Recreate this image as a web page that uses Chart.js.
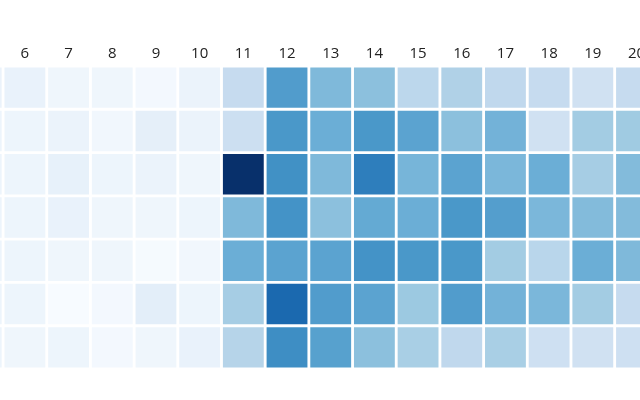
<!DOCTYPE html>
<html>
<head>
<meta charset="utf-8">
<script src="https://cdn.jsdelivr.net/npm/chart.js@4/dist/chart.umd.min.js"></script>
<style>
 html,body{margin:0;padding:0;background:#fff}
 #wrap{width:640px;height:400px;position:relative}
</style>
</head>
<body>
<div id="wrap"><canvas id="heat"></canvas></div>
<script>
// hours shown on the top axis
const hours=[5,6,7,8,9,10,11,12,13,14,15,16,17,18,19,20]

// one array per row, top to bottom (0..100)
const row1=[6,7,4,4,2,6,25,58,45,42,28,32,27,25,20,25]
const row2=[5,5,6,3,9,6,22,60,50,60,55,42,48,20,36,37]
const row3=[5,5,8,5,6,4,100,63,45,70,47,55,46,50,35,44]
const row4=[5,5,7,4,4,5,45,62,42,52,50,60,57,46,44,44]
const row5=[5,5,4,4,1,3,50,55,55,62,60,60,36,29,50,45]
const row6=[5,5,0,2,10,5,35,78,58,55,38,58,48,46,36,25]
const row7=[5,4,5,2,4,7,30,64,56,42,34,27,34,21,20,21]
const rows=[row1,row2,row3,row4,row5,row6,row7]

// Blues scheme
const stops=["#f7fbff","#deebf7","#c6dbef","#9ecae1","#6baed6","#4292c6","#2171b5","#08519c","#08306b"]
function hex(h){return [1,3,5].map(i=>parseInt(h.substr(i,2),16))}
function blues(v){
 let t=Math.max(0,Math.min(1,v/100))*(stops.length-1)
 let i=Math.min(Math.floor(t),stops.length-2), f=t-i
 let a=hex(stops[i]), b=hex(stops[i+1])
 let c=a.map((x,k)=>Math.round(x+(b[k]-x)*f))
 return "rgb("+c.join(",")+")"
}

new Chart(document.getElementById("heat"),{
 type:"bar",
 data:{
  labels:hours,
  datasets:rows.map(r=>({
   data:r.map(()=>1),
   backgroundColor:r.map(blues),
   borderColor:"#ffffff",
   borderWidth:1.75,
   borderSkipped:false,
   barPercentage:1,
   categoryPercentage:1
  }))
 },
 options:{
  responsive:true,
  maintainAspectRatio:false,
  animation:false,
  layout:{padding:{top:42,bottom:31,left:0,right:0}},
  plugins:{legend:{display:false},tooltip:{enabled:false}},
  scales:{
   x:{
    type:"linear",
    position:"top",
    offset:false,
    stacked:true,
    min:5.43,
    max:20.08,
    grid:{display:false,drawTicks:false},
    border:{display:false},
    afterFit(s){s.paddingLeft=0;s.paddingRight=0},
    ticks:{stepSize:1,includeBounds:false,color:"#222",padding:3,font:{family:"Open Sans",size:15}}
   },
   y:{
    stacked:true,
    reverse:true,
    min:0,
    max:7,
    display:false
   }
  }
 }
})
</script>
</body>
</html>
